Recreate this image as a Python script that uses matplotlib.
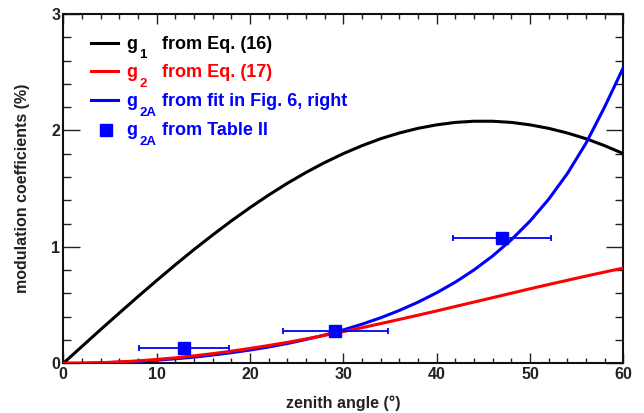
import matplotlib
matplotlib.use("Agg")
import matplotlib.pyplot as plt
from matplotlib.ticker import MultipleLocator

plt.rcParams['font.family'] = ['Liberation Sans', 'DejaVu Sans']
plt.rcParams['font.weight'] = 'bold'
plt.rcParams['axes.labelweight'] = 'bold'

# zenith angle grid (degrees)
zenith = [0, 2, 4, 6, 8, 10, 12, 14, 16, 18, 20, 22, 24, 26, 28, 30,
          32, 34, 36, 38, 40, 42, 44, 46, 48, 50, 52, 54, 56, 58, 60]

# g1 from Eq. (16), percent
g1 = [0.000, 0.145, 0.290, 0.432, 0.573, 0.711, 0.846, 0.977, 1.102, 1.223,
      1.337, 1.445, 1.546, 1.639, 1.724, 1.801, 1.869, 1.929, 1.978, 2.018,
      2.048, 2.069, 2.079, 2.079, 2.069, 2.048, 2.018, 1.978, 1.929, 1.869,
      1.801]

# g2 from Eq. (17), percent
g2 = [0.000, 0.001, 0.005, 0.012, 0.021, 0.033, 0.047, 0.064, 0.083, 0.104,
      0.128, 0.153, 0.180, 0.209, 0.240, 0.273, 0.306, 0.341, 0.377, 0.413,
      0.450, 0.488, 0.526, 0.564, 0.602, 0.640, 0.677, 0.713, 0.749, 0.784,
      0.818]

# g2A from the fit, percent
g2a_fit = [0.000, 0.001, 0.004, 0.010, 0.017, 0.027, 0.039, 0.053, 0.071, 0.091,
           0.114, 0.140, 0.170, 0.205, 0.243, 0.287, 0.336, 0.391, 0.454, 0.525,
           0.606, 0.697, 0.802, 0.922, 1.061, 1.221, 1.409, 1.629, 1.890, 2.202,
           2.540]

# g2A from Table II
table_zenith = [12.9, 29.15, 47.0]
table_zenith_err = [4.8, 5.6, 5.2]
table_g2a = [0.13, 0.28, 1.08]

legend_labels = [("g", "1", "from Eq. (16)", "black"),
                 ("g", "2", "from Eq. (17)", "red"),
                 ("g", "2A", "from fit in Fig. 6, right", "blue"),
                 ("g", "2A", "from Table II", "blue")]

fig = plt.figure(figsize=(6.44, 4.13), dpi=100)
ax = fig.add_axes([0.0983, 0.1203, 0.8696, 0.8458])

ax.plot(zenith, g1, color='black', lw=2.2, zorder=3)
ax.plot(zenith, g2a_fit, color='blue', lw=2.2, zorder=4)
ax.plot(zenith, g2, color='red', lw=2.2, zorder=5)
ax.errorbar(table_zenith, table_g2a, xerr=table_zenith_err, fmt='s',
            color='blue', ms=9, elinewidth=1.3, capsize=2.2, capthick=1.3,
            zorder=6)

ax.set_xlim(0, 60)
ax.set_ylim(0, 3)

ax.xaxis.set_major_locator(MultipleLocator(10))
ax.xaxis.set_minor_locator(MultipleLocator(2))
ax.yaxis.set_major_locator(MultipleLocator(1))
ax.yaxis.set_minor_locator(MultipleLocator(0.2))

ax.tick_params(axis='both', which='both', direction='in', top=True,
               right=True, width=1.0, colors='#222222')
ax.tick_params(axis='x', which='major', length=7.2, pad=3, labelsize=11.5)
ax.tick_params(axis='x', which='minor', length=3.6)
ax.tick_params(axis='y', which='major', length=12, pad=2.2, labelsize=11.5)
ax.tick_params(axis='y', which='minor', length=6)
for sp in ax.spines.values():
    sp.set_linewidth(1.5)
    sp.set_color('#111111')

ax.set_xlabel("zenith angle (°)", fontsize=11.5, fontweight='bold',
              color='#222222', va='center')
ax.xaxis.set_label_coords(0.5, -0.1128)
ax.set_ylabel("modulation coefficients (%)", fontsize=11.5, fontweight='bold',
              color='#222222', va='center', ha='center')
ax.yaxis.set_label_coords(-0.072, 0.5)

# hand-drawn legend
row_y = [0.9178, 0.8360, 0.7529, 0.6670]
row_base = [0.9007, 0.8196, 0.7358, 0.6527]
for i, (main, sub, rest, col) in enumerate(legend_labels):
    if i < 3:
        ax.plot([0.050, 0.098], [row_y[i], row_y[i]], color=col, lw=2.2,
                transform=ax.transAxes, clip_on=False)
    else:
        ax.plot([0.0757], [row_y[i]], 's', color=col, ms=8.5,
                transform=ax.transAxes, clip_on=False)
    ax.text(0.1132, row_base[i], main, color=col, fontsize=13,
            va='baseline', ha='left', transform=ax.transAxes)
    ax.text(0.1362, row_base[i] - 0.0272, sub, color=col, fontsize=9.5,
            va='baseline', ha='left', transform=ax.transAxes)
    ax.text(0.1757, row_base[i], rest, color=col, fontsize=13,
            va='baseline', ha='left', transform=ax.transAxes)

fig.savefig("out.png", dpi=100)
